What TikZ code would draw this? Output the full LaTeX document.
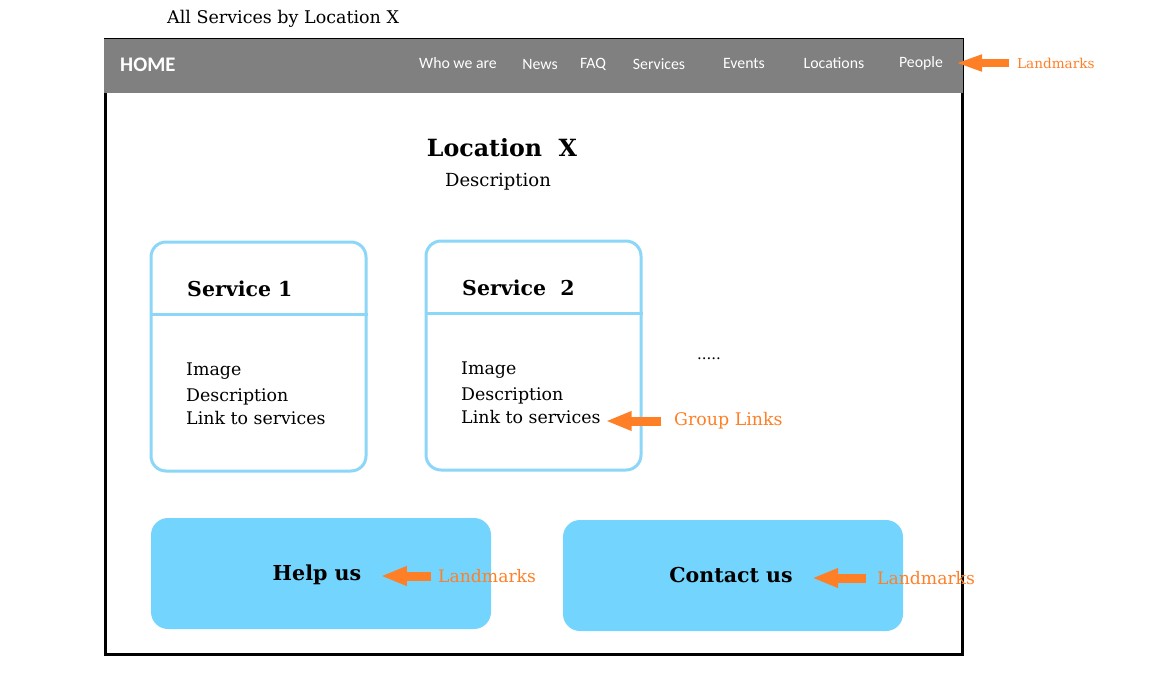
\documentclass[tikz,border=0pt]{standalone}
\usepackage{fontspec}
\setmainfont{DejaVu Serif}
\newfontfamily\navfont{Carlito}
\usepackage{tikz}
\usetikzlibrary{arrows.meta,positioning,shapes}

\definecolor{bargray}{RGB}{128,128,128}
\definecolor{markorange}{RGB}{255,127,39}
\definecolor{boxline}{RGB}{140,214,248}
\definecolor{boxfill}{RGB}{115,212,253}

\begin{document}
\begin{tikzpicture}[x=1pt,y=-1pt,
    navitem/.style={text=white,font=\navfont\fontsize{15.8}{18}\selectfont,inner sep=0pt},
    servbox/.style={draw=boxline,line width=3pt,rounded corners=15pt,minimum width=215pt,minimum height=229pt},
    bigbox/.style={fill=boxfill,rounded corners=17pt,minimum width=340pt,minimum height=111pt},
    bodytext/.style={anchor=west,inner sep=0pt,font=\fontsize{17.4}{19}\selectfont},
    headtext/.style={anchor=west,inner sep=0pt,font=\bfseries\fontsize{20.5}{22}\selectfont},
    marktext/.style={anchor=west,inner sep=0pt,text=markorange},
    markarrow/.style={draw=markorange,line width=9pt,-{Triangle[length=26pt,width=18pt]}}]
    \useasboundingbox (0,0) rectangle (1153,677);
    %\draw[help lines] (0,0) grid (1153,677);
    \node[anchor=west,inner sep=0pt,font=\fontsize{17.5}{19}\selectfont] (title) at (167,19) {All Services by Location X} ;
    % page frame and menu bar
    \draw[line width=3pt] (105,40) rectangle (962,654);
    \fill[bargray] (104,39) rectangle (963,93);
    \node[anchor=west,inner sep=0pt,text=white,font=\navfont\bfseries\fontsize{20.7}{22}\selectfont] (home) at (120,65) {HOME} ;
    \node[navitem] (who) at (458,63) {Who we are} ;
    \node[navitem] (news) at (540,64) {News} ;
    \node[navitem] (faq) at (593,64) {FAQ} ;
    \node[navitem] (serv) at (659,64) {Services} ;
    \node[navitem] (events) at (744,63) {Events} ;
    \node[navitem] (locs) at (834,63) {Locations} ;
    \node[navitem] (people) at (921,63) {People} ;
    \node[marktext,font=\fontsize{13.6}{15}\selectfont] (mark1) at (1017,63) {Landmarks} ;
    \coordinate (m1tail) at (1009,63) ;
    \coordinate (m1head) at (955,63) ;
    \draw[markarrow,line width=8pt,-{Triangle[length=27pt,width=15pt]}] (m1tail) -- (m1head) ;
    % heading
    \node[font=\bfseries\fontsize{23.7}{26}\selectfont] (loc) at (502,148) {Location~~X} ;
    \node[font=\fontsize{18}{20}\selectfont] (locdesc) at (498,182) {Description} ;
    % service boxes
    \node[servbox] (serv1) at (258.5,356.5) {} ;
    \node[servbox] (serv2) at (533.5,355.5) {} ;
    \draw[boxline,line width=3pt] ([yshift=-74pt]serv1.north west) -- ([yshift=-74pt]serv1.north east) ;
    \draw[boxline,line width=3pt] ([yshift=-74pt]serv2.north west) -- ([yshift=-74pt]serv2.north east) ;
    \node[headtext] (s1head) at (187,289) {Service 1} ;
    \node[bodytext] (s1img) at (186,371) {Image} ;
    \node[bodytext] (s1desc) at (186,397) {Description} ;
    \node[bodytext] (s1link) at (186,418) {Link to services} ;
    \node[headtext] (s2head) at (462,288) {Service~~2} ;
    \node[bodytext] (s2img) at (461,370) {Image} ;
    \node[bodytext] (s2desc) at (461,396) {Description} ;
    \node[bodytext] (s2link) at (461,417) {Link to services} ;
    \node[font=\fontsize{15}{17}\selectfont] (more) at (709,359) {.....} ;
    \node[marktext,font=\fontsize{17.4}{19}\selectfont] (group) at (674,421) {Group Links} ;
    \coordinate (g1tail) at (661,421) ;
    \draw[markarrow,shorten >=5pt] (g1tail) -- (g1tail -| s2link.east) ;
    % landmark boxes
    \node[bigbox] (help) at (321,573.5) {} ;
    \node[bigbox] (contact) at (733,575.5) {} ;
    \node[font=\bfseries\fontsize{20.6}{22}\selectfont] (helptxt) at (317,575) {Help us} ;
    \node[font=\bfseries\fontsize{20.5}{22}\selectfont] (contxt) at (731,575) {Contact us} ;
    \node[marktext,font=\fontsize{17.2}{19}\selectfont] (mark2) at (438,576) {Landmarks} ;
    \node[marktext,font=\fontsize{17.2}{19}\selectfont] (mark3) at (877,578) {Landmarks} ;
    \coordinate (m2tail) at (431,576) ;
    \coordinate (m3tail) at (866,578) ;
    \draw[markarrow,shorten >=16pt] (m2tail) -- (m2tail -| helptxt.east) ;
    \draw[markarrow,shorten >=16pt] (m3tail) -- (m3tail -| contxt.east) ;
\end{tikzpicture}
\end{document}
